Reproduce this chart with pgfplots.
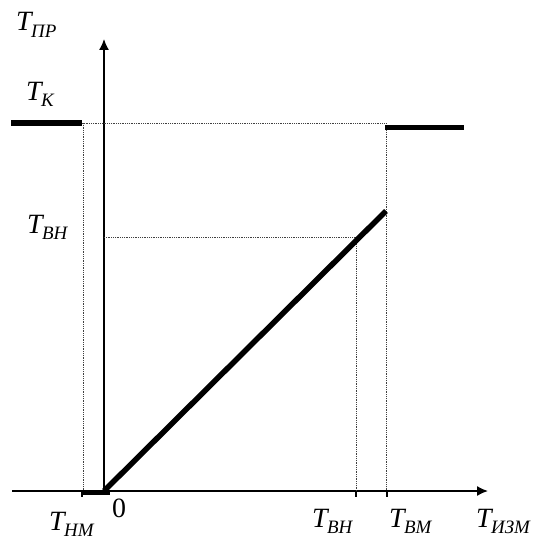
\documentclass[border=0pt]{standalone}
\usepackage{fontspec}
\setmainfont{Liberation Serif}
\usepackage{pgfplots}
\pgfplotsset{compat=1.18}
\usetikzlibrary{arrows.meta}
\newcommand{\TT}[1]{{\fontsize{28}{32}\selectfont\itshape T\kern-0.02em\raisebox{-0.22em}{\fontsize{19}{19}\selectfont\itshape #1}}}
\begin{document}
\begin{tikzpicture}
\begin{axis}[
  scale only axis, width=534bp, height=542bp,
  xmin=0, xmax=534, ymin=0, ymax=542, y dir=reverse,
  axis lines=none, clip=false,
  every axis plot/.append style={no marks},
]
% axes
\addplot[black, line width=1.5bp, -{Latex[length=11bp,width=10bp]}] coordinates {(12,491) (488,491)};
\addplot[black, line width=1.5bp, -{Latex[length=11bp,width=10bp]}] coordinates {(104,491) (104,39)};
% ticks
\addplot[black, line width=2bp] coordinates {(82,491) (82,497)};
\addplot[black, line width=2bp] coordinates {(356,491) (356,497)};
\addplot[black, line width=2bp] coordinates {(387,491) (387,497)};
% dotted guides
\addplot[black!75, densely dotted, line width=0.8bp] coordinates {(83,123) (83,491)};
\addplot[black!75, densely dotted, line width=0.8bp] coordinates {(82,123) (386,123)};
\addplot[black!75, densely dotted, line width=0.8bp] coordinates {(386,123) (386,491)};
\addplot[black!75, densely dotted, line width=0.8bp] coordinates {(104,237) (356,237)};
\addplot[black!75, densely dotted, line width=0.8bp] coordinates {(356,237) (356,491)};
% thick characteristic
\addplot[black, line width=5.5bp] coordinates {(11,123) (82,123)};
\addplot[black, line width=5bp] coordinates {(385,127) (464,127)};
\addplot[black, line width=5.5bp] coordinates {(104,491) (386,211)};
\addplot[black, line width=4.5bp] coordinates {(82,492.5) (110,492.5)};
% labels
\node[anchor=base west, inner sep=0pt] at (axis cs:16,31) {\TT{ПР}};
\node[anchor=base west, inner sep=0pt] at (axis cs:26,100) {\TT{К}};
\node[anchor=base west, inner sep=0pt] at (axis cs:27,233) {\TT{ВН}};
\node[anchor=base west, inner sep=0pt] at (axis cs:49,530) {\TT{НМ}};
\node[anchor=base west, inner sep=0pt] at (axis cs:112,517) {\fontsize{28}{32}\selectfont 0};
\node[anchor=base west, inner sep=0pt] at (axis cs:312,527) {\TT{ВН}};
\node[anchor=base west, inner sep=0pt] at (axis cs:389,527) {\TT{ВМ}};
\node[anchor=base west, inner sep=0pt] at (axis cs:476,527) {\TT{ИЗМ}};
\end{axis}
\pgfresetboundingbox
\path (0,0) rectangle (534bp,542bp);
\end{tikzpicture}
\end{document}
